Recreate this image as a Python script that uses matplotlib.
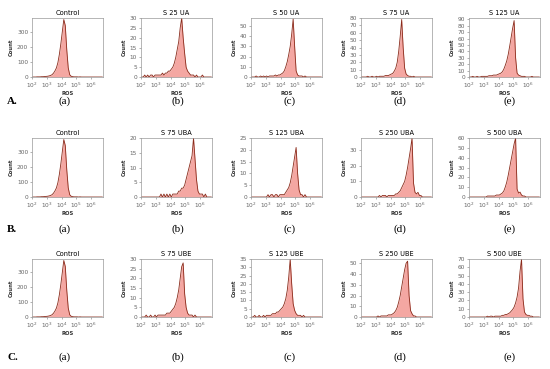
import numpy as np
import matplotlib
matplotlib.use("Agg")
import matplotlib.pyplot as plt
from matplotlib.ticker import FixedLocator, NullLocator

# bins in log10(ROS), 2.0 .. 6.8 step 0.1
log_edges = np.linspace(2.0, 6.8, 49)

# counts per bin
control = [0, 0, 0, 1, 1, 1, 2, 2, 3, 4,
           5, 7, 10, 15, 25, 40, 60, 95, 150, 220,
           300, 380, 340, 180, 60, 15, 5, 2, 1, 1,
           1, 0, 1, 0, 0, 0, 0, 0, 0, 0,
           0, 0, 0, 0, 0, 0, 0, 0]
s25_ua = [0, 0, 1, 0, 1, 0, 1, 1, 0, 1,
          1, 1, 1, 1, 2, 1, 2, 2, 3, 3,
          4, 5, 7, 10, 14, 18, 25, 30, 20, 12,
          5, 3, 2, 1, 1, 1, 0, 1, 0, 0,
          0, 1, 0, 0, 0, 0, 0, 0]
s50_ua = [0, 0, 0, 1, 0, 0, 1, 0, 1, 0,
          1, 0, 1, 1, 1, 1, 2, 1, 2, 2,
          3, 4, 6, 10, 15, 22, 30, 42, 57, 30,
          6, 2, 1, 1, 1, 0, 1, 0, 0, 0,
          0, 0, 0, 0, 0, 0, 0, 0]
s75_ua = [0, 0, 0, 0, 1, 0, 0, 1, 0, 0,
          1, 0, 1, 1, 1, 1, 2, 2, 2, 3,
          4, 5, 8, 12, 20, 35, 55, 78, 40, 12,
          4, 2, 1, 1, 0, 1, 0, 0, 0, 0,
          0, 0, 0, 0, 0, 0, 0, 0]
s125_ua = [0, 0, 1, 0, 0, 1, 0, 0, 1, 1,
           1, 1, 1, 2, 2, 2, 3, 3, 3, 4,
           5, 6, 8, 12, 18, 25, 35, 48, 62, 76,
           88, 30, 6, 3, 2, 1, 1, 1, 0, 0,
           0, 0, 1, 0, 0, 0, 0, 0]

s75_uba = [0, 0, 0, 0, 0, 0, 0, 0, 0, 0,
           0, 0, 0, 1, 0, 1, 0, 1, 0, 1,
           0, 1, 1, 1, 1, 2, 2, 3, 3, 4,
           6, 8, 10, 12, 14, 20, 13, 6, 2, 1,
           1, 1, 0, 1, 0, 0, 0, 0]
s125_uba = [0, 0, 0, 0, 0, 0, 0, 0, 0, 0,
            0, 1, 0, 1, 1, 0, 1, 1, 0, 1,
            1, 1, 1, 2, 3, 4, 6, 9, 13, 17,
            21, 10, 3, 1, 1, 0, 1, 0, 0, 0,
            0, 0, 0, 0, 0, 0, 0, 0]
s250_uba = [0, 0, 0, 0, 0, 0, 0, 0, 0, 0,
            0, 0, 1, 0, 1, 1, 1, 0, 1, 1,
            1, 1, 1, 2, 2, 3, 4, 6, 8, 10,
            14, 19, 25, 31, 38, 9, 3, 2, 3, 1,
            1, 0, 0, 0, 0, 0, 0, 0]
s500_uba = [0, 0, 0, 0, 0, 0, 0, 0, 0, 0,
            0, 0, 1, 1, 1, 1, 1, 1, 2, 2,
            2, 3, 4, 6, 10, 15, 22, 30, 38, 46,
            54, 60, 8, 4, 5, 2, 1, 1, 0, 0,
            0, 0, 0, 0, 0, 0, 0, 0]

s75_ube = [0, 0, 0, 1, 0, 0, 1, 0, 0, 1,
           0, 1, 1, 1, 1, 1, 1, 2, 2, 2,
           3, 4, 5, 7, 10, 14, 20, 26, 28, 12,
           5, 2, 1, 1, 1, 0, 1, 0, 0, 0,
           0, 0, 0, 0, 0, 0, 0, 0]
s125_ube = [0, 0, 1, 0, 0, 1, 0, 0, 1, 0,
            1, 1, 1, 1, 2, 2, 2, 3, 3, 4,
            5, 6, 8, 11, 16, 24, 35, 20, 8, 4,
            2, 1, 1, 1, 0, 1, 0, 0, 0, 0,
            0, 0, 0, 0, 0, 0, 0, 0]
s250_ube = [0, 0, 0, 0, 0, 0, 0, 0, 0, 0,
            0, 1, 0, 1, 1, 1, 1, 1, 2, 2,
            2, 3, 4, 6, 9, 14, 20, 28, 36, 44,
            50, 52, 20, 6, 3, 1, 1, 0, 0, 0,
            0, 0, 0, 0, 0, 0, 0, 0]
s500_ube = [0, 0, 0, 0, 0, 0, 0, 0, 0, 0,
            0, 0, 1, 0, 1, 1, 0, 1, 1, 1,
            1, 1, 2, 2, 3, 3, 4, 5, 7, 9,
            12, 17, 24, 35, 55, 70, 22, 6, 3, 2,
            2, 1, 1, 0, 0, 0, 0, 0]

titles = [["Control", "S 25 UA", "S 50 UA", "S 75 UA", "S 125 UA"],
          ["Control", "S 75 UBA", "S 125 UBA", "S 250 UBA", "S 500 UBA"],
          ["Control", "S 75 UBE", "S 125 UBE", "S 250 UBE", "S 500 UBE"]]
counts = [[control, s25_ua, s50_ua, s75_ua, s125_ua],
          [control, s75_uba, s125_uba, s250_uba, s500_uba],
          [control, s75_ube, s125_ube, s250_ube, s500_ube]]
ytops = [[390, 30, 58, 80, 92],
         [390, 20, 25, 38, 60],
         [390, 30, 35, 54, 70]]
ysteps = [[100, 5, 10, 10, 10],
          [100, 5, 5, 10, 10],
          [100, 5, 5, 10, 10]]
row_labels = ["A.", "B.", "C."]
col_labels = ["(a)", "(b)", "(c)", "(d)", "(e)"]

W, H = 550, 369
fig = plt.figure(figsize=(W / 100, H / 100), dpi=100)

def px_axes(l, t, r, b):
    return fig.add_axes([l / W, 1 - b / H, (r - l) / W, (b - t) / H])

col_left = [32, 141, 251, 361, 469]
row_top = [18, 138, 259]
row_bot = [77, 197, 317]
label_y = [101, 229, 357]
label_x = [65, 178, 290, 400, 510]

centers = 10 ** ((log_edges[:-1] + log_edges[1:]) / 2)
fill_c = "#f4a7a2"
line_c = "#8a2b1b"

for r in range(3):
    for c in range(5):
        ax = px_axes(col_left[c], row_top[r], col_left[c] + 71, row_bot[r])
        ax.fill_between(centers, counts[r][c], color=fill_c, lw=0)
        ax.plot(centers, counts[r][c], color=line_c, lw=0.6)
        ax.set_xscale("log")
        ax.set_xlim(10 ** 2.0, 10 ** 6.8)
        ax.set_ylim(0, ytops[r][c])
        ax.xaxis.set_major_locator(FixedLocator([1e2, 1e3, 1e4, 1e5, 1e6]))
        ax.xaxis.set_minor_locator(NullLocator())
        ax.set_xticklabels([r"$10^{%d}$" % k for k in range(2, 7)])
        ax.yaxis.set_major_locator(FixedLocator(
            np.arange(0, ytops[r][c] + 0.01, ysteps[r][c])))
        ax.tick_params(labelsize=4.2, colors="#777", labelcolor="#666",
                       length=1.5, width=0.4, pad=1.2)
        for s in ax.spines.values():
            s.set_color("#999")
            s.set_linewidth(0.5)
        ax.set_title(titles[r][c], fontsize=4.8, pad=2.5)
        ax.set_xlabel("ROS", fontsize=3.8, labelpad=0.8, fontweight="bold",
                      color="#333")
        ax.set_ylabel("Count", fontsize=3.8, labelpad=2, fontweight="bold",
                      color="#333")
        fig.text(label_x[c] / W, 1 - label_y[r] / H, col_labels[c],
                 ha="center", va="center", fontsize=8,
                 family="Liberation Serif")
    fig.text(7 / W, 1 - label_y[r] / H, row_labels[r], ha="left",
             va="center", fontsize=8, fontweight="bold",
             family="Liberation Serif")

fig.savefig("out.png", dpi=100)
